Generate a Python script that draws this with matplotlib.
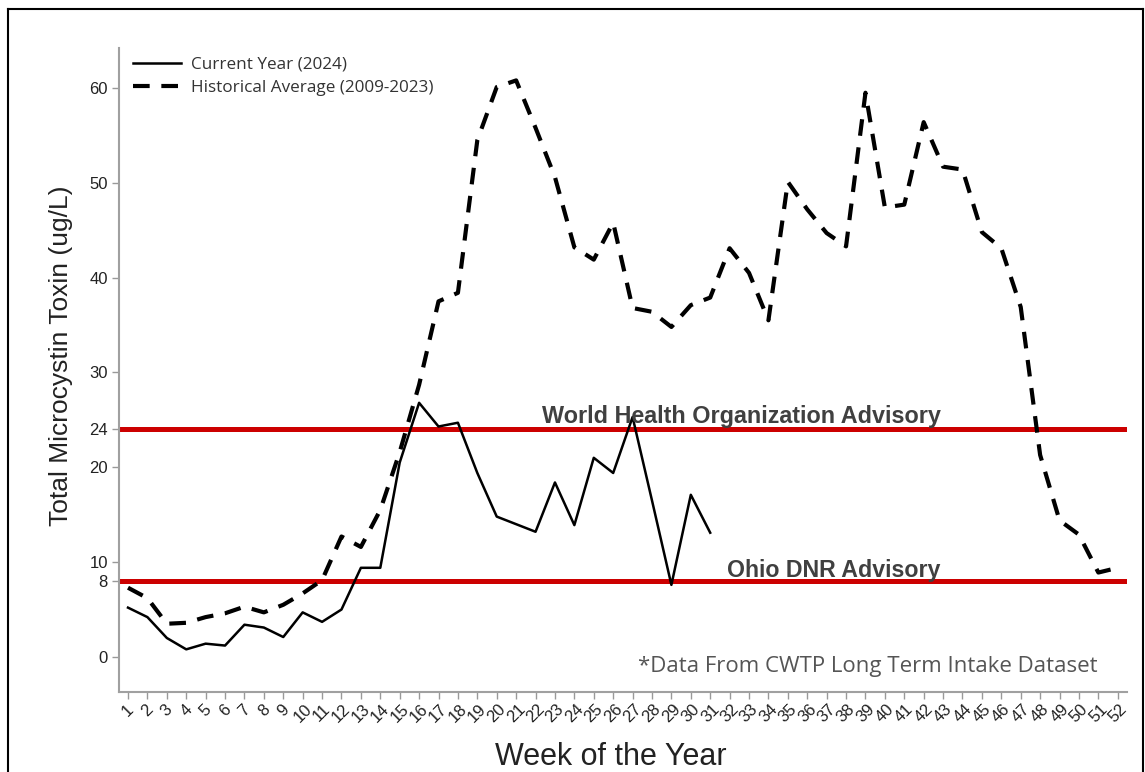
import matplotlib.pyplot as plt
from matplotlib.lines import Line2D

weeks = list(range(1, 53))

current_2024 = [5.2, 4.2, 2.0, 0.8, 1.4, 1.2, 3.4, 3.1, 2.1, 4.7,
                3.7, 5.0, 9.4, 9.4, 20.5, 26.8, 24.3, 24.7, 19.4, 14.8,
                14.0, 13.2, 18.4, 13.9, 21.0, 19.4, 25.3, 16.5, 7.6, 17.1,
                13.1]

historical_avg = [7.3, 6.2, 3.5, 3.6, 4.2, 4.6, 5.3, 4.7, 5.5, 6.7,
                  8.1, 12.7, 11.6, 15.5, 21.6, 28.7, 37.5, 38.4, 54.5, 60.1,
                  60.8, 55.8, 50.6, 43.2, 41.9, 45.8, 36.8, 36.4, 34.8, 37.1,
                  37.9, 43.1, 40.5, 35.5, 50.1, 47.2, 44.7, 43.3, 59.5, 47.4,
                  47.7, 56.4, 51.7, 51.4, 44.8, 43.1, 36.9, 21.3, 14.4, 12.9,
                  8.9, 9.4]

who_limit = 24
dnr_limit = 8
y_ticks = [0, 8, 10, 20, 24, 30, 40, 50, 60]

fig = plt.figure(figsize=(11.45, 7.72), dpi=100)
ax = fig.add_axes([0.104, 0.1036, 0.880, 0.834])

ax.axhline(who_limit, color='#cc0000', lw=3.6, zorder=1)
ax.axhline(dnr_limit, color='#cc0000', lw=3.6, zorder=1)

ax.plot(weeks[:len(current_2024)], current_2024, color='black', lw=1.8,
        label='Current Year (2024)', zorder=3)
ax.plot(weeks, historical_avg, color='black', lw=3.0, dashes=(4.0, 2.8),
        label='Historical Average (2009-2023)', zorder=3)

ax.set_xlim(0.54, 52.46)
ax.set_ylim(-3.7, 64.2)
ax.set_xticks(weeks)
ax.set_xticklabels([str(w) for w in weeks], rotation=45, ha='center',
                   fontsize=12, family='Liberation Sans', color='#222222')
ax.set_yticks(y_ticks)
ax.set_yticklabels([str(t) for t in y_ticks], fontsize=12, family='Liberation Sans',
                   color='#222222')
ax.tick_params(axis='both', direction='out', length=5, width=1, color='#999999')
ax.tick_params(axis='x', pad=2)
ax.tick_params(axis='y', pad=3)

for side in ['top', 'right']:
    ax.spines[side].set_visible(False)
for side in ['left', 'bottom']:
    ax.spines[side].set_color('#a0a0a0')
    ax.spines[side].set_linewidth(1.5)

ax.set_xlabel('Week of the Year', fontsize=22, family='Liberation Sans', color='#222222')
ax.xaxis.set_label_coords((611 - 119) / 1008, -(757 - 692) / 644, transform=ax.transAxes)
ax.xaxis.label.set_va('center')
ax.set_ylabel('Total Microcystin Toxin (ug/L)', fontsize=19, family='Liberation Sans',
              color='#222222')
ax.yaxis.set_label_coords(-(119 - 61) / 1008, (657 - 356) / 644 + 3.7 * 9.48 / 644,
                          transform=ax.transAxes)
ax.yaxis.label.set_va('center')

ax.text(32.63, 24.7, 'World Health Organization Advisory', ha='center', va='baseline',
        fontsize=16.8, fontweight='bold', family='Liberation Sans', color='#404040')
ax.text(37.37, 8.45, 'Ohio DNR Advisory', ha='center', va='baseline',
        fontsize=16.7, fontweight='bold', family='Liberation Sans', color='#404040')
ax.text(50.97, -1.05, '*Data From CWTP Long Term Intake Dataset', ha='right', va='center',
        fontsize=16, family='Open Sans', color='#555555')

leg = ax.legend(loc='upper left', bbox_to_anchor=(0.004, 1.003), frameon=False,
                prop={'family': 'Open Sans', 'size': 12.3}, handlelength=2.8,
                handletextpad=0.55, labelspacing=0.45, borderaxespad=0.2)
for t in leg.get_texts():
    t.set_color('#333333')

# frame around the figure
fig.add_artist(Line2D([8 / 1145, 8 / 1145], [0, 1 - 9 / 772], color='black', lw=1.5,
                      transform=fig.transFigure))
fig.add_artist(Line2D([8 / 1145, 1143 / 1145], [1 - 9 / 772, 1 - 9 / 772], color='black',
                      lw=1.5, transform=fig.transFigure))
fig.add_artist(Line2D([1143 / 1145, 1143 / 1145], [0, 1 - 9 / 772], color='black', lw=1.5,
                      transform=fig.transFigure))

fig.savefig('out.png', dpi=100)
